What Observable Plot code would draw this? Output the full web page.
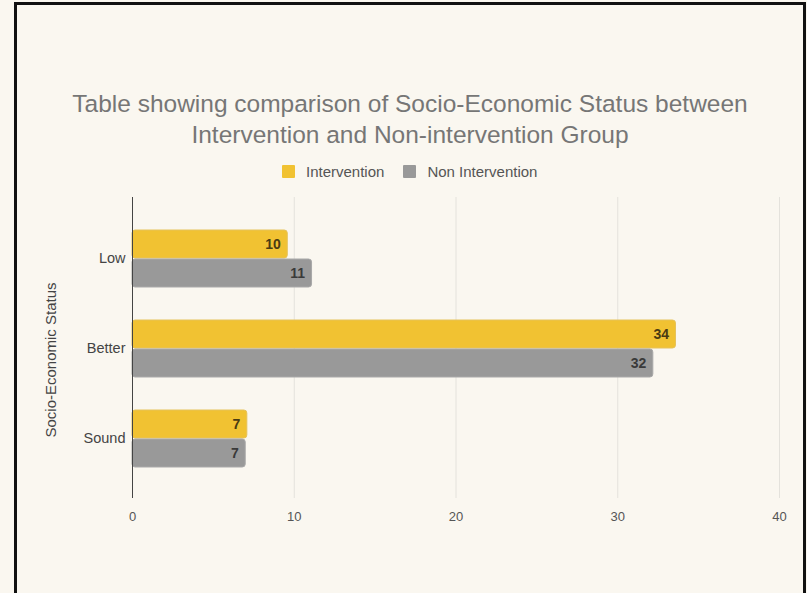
<!DOCTYPE html>
<html>
<head>
<meta charset="utf-8">
<script src="https://cdn.jsdelivr.net/npm/d3@7"></script>
<script src="https://cdn.jsdelivr.net/npm/@observablehq/plot@0.6"></script>
<style>
  html, body { margin: 0; padding: 0; background: #faf7f0; }
  #wrap { position: relative; width: 807px; height: 593px; overflow: hidden; background: #faf7f0; font-family: "Liberation Sans", Arial, sans-serif; }
  #frame { position: absolute; left: 14px; top: 2px; width: 786px; height: 600px; border: 3px solid #111; box-sizing: content-box; }
  #title { position: absolute; left: 0; width: 820px; top: 88px; text-align: center; font-size: 24.5px; line-height: 31px; color: #767676; }
  #legend { position: absolute; left: 282px; top: 163px; font-size: 15px; color: #555; display: flex; align-items: center; }
  .sw { display: inline-block; width: 13px; height: 13px; border-radius: 1px; margin-right: 11px; }
  .item { display: flex; align-items: center; margin-right: 19px; }
  #chart { position: absolute; left: 0; top: 0; }
  #ytitle { position: absolute; left: 50px; top: 360px; transform: translate(-50%, -50%) rotate(-90deg); white-space: nowrap; font-size: 15px; color: #444; }
</style>
</head>
<body>
<div id="wrap">
  <div id="frame"></div>
  <div id="title">Table showing comparison of Socio-Economic Status between<br>Intervention and Non-intervention Group</div>
  <div id="legend"></div>
  <div id="chart"></div>
  <div id="ytitle"></div>
</div>
<script>
const categories = ["Low", "Better", "Sound"];
const seriesNames = ["Intervention", "Non Intervention"];
// bar lengths as drawn
const intervention = [9.6, 33.6, 7.1];
const nonIntervention = [11.1, 32.2, 7.0];
// data labels as printed
const interventionLabels = ["10", "34", "7"];
const nonInterventionLabels = ["11", "32", "7"];
const xTicks = [0, 10, 20, 30, 40];
const colors = ["#f1c232", "#999999"];
const yTitle = "Socio-Economic Status";

const dataI = categories.map((c, i) => ({category: c, value: intervention[i], label: interventionLabels[i]}));
const dataN = categories.map((c, i) => ({category: c, value: nonIntervention[i], label: nonInterventionLabels[i]}));

document.getElementById("ytitle").textContent = yTitle;
const legend = document.getElementById("legend");
seriesNames.forEach((s, i) => {
  const it = document.createElement("div");
  it.className = "item";
  it.innerHTML = `<span class="sw" style="background:${colors[i]}"></span><span>${s}</span>`;
  legend.appendChild(it);
});

const chart = Plot.plot({
  width: 807,
  height: 593,
  marginLeft: 132,
  marginRight: 28,
  marginTop: 197,
  marginBottom: 95,
  style: {background: "transparent", fontFamily: "Liberation Sans, Arial, sans-serif"},
  x: {domain: [0, 40], ticks: xTicks, label: null},
  y: {domain: categories, range: [213, 483], padding: 0, label: null},
  marks: [
    Plot.ruleX(xTicks.filter(d => d > 0), {stroke: "#e4e2dc", strokeWidth: 1}),
    Plot.axisX({ticks: xTicks, tickSize: 0, tickPadding: 13, fontSize: 13, color: "#555", label: null}),
    Plot.axisY({tickSize: 0, tickPadding: 7, fontSize: 14.5, color: "#444", label: null}),
    Plot.barX(dataI, {y: "category", x: "value", fill: colors[0], stroke: "#e6c25a", strokeWidth: 1, insetTop: 17, insetBottom: 45, rx: 3}),
    Plot.barX(dataN, {y: "category", x: "value", fill: colors[1], stroke: "#a9a9a9", strokeWidth: 1, insetTop: 46, insetBottom: 16, rx: 3}),
    Plot.text(dataI, {y: "category", x: "value", text: "label", dy: -14, dx: -7, textAnchor: "end", fontSize: 14, fontWeight: "bold", fill: "#4a3b12"}),
    Plot.text(dataN, {y: "category", x: "value", text: "label", dy: 15, dx: -7, textAnchor: "end", fontSize: 14, fontWeight: "bold", fill: "#3a3a3a"}),
    Plot.ruleX([0], {stroke: "#444", strokeWidth: 1})
  ]
});
document.getElementById("chart").appendChild(chart);
</script>
</body>
</html>
